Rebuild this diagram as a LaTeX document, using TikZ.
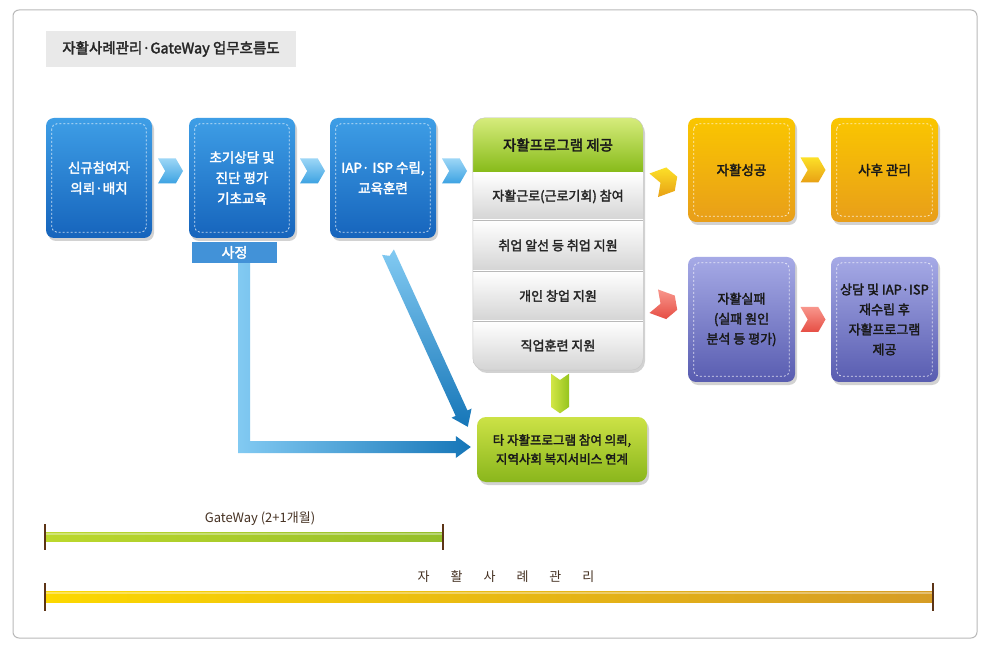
\documentclass[tikz,border=0pt]{standalone}
\usepackage{fontspec}
\setmainfont{Noto Sans CJK KR}[AutoFakeBold=2.4]
\usetikzlibrary{shapes.symbols,shadows,calc}
\definecolor{bluetop}{RGB}{62,158,230}
\definecolor{bluebot}{RGB}{22,100,188}
\definecolor{tabblue}{RGB}{66,146,216}
\definecolor{yeltop}{RGB}{250,198,0}
\definecolor{yelbot}{RGB}{232,158,26}
\definecolor{purtop}{RGB}{166,170,230}
\definecolor{purbot}{RGB}{88,92,176}
\definecolor{grntop}{RGB}{204,226,70}
\definecolor{grnbot}{RGB}{138,182,28}
\definecolor{hdrtop}{RGB}{214,236,124}
\definecolor{hdrbot}{RGB}{134,186,24}
\definecolor{rowbot}{RGB}{212,212,212}
\definecolor{arrlight}{RGB}{130,202,242}
\definecolor{arrdark}{RGB}{22,118,184}
\definecolor{chvbluetop}{RGB}{156,214,246}
\definecolor{chvbluebot}{RGB}{60,162,226}
\definecolor{chvredtop}{RGB}{248,150,140}
\definecolor{chvredbot}{RGB}{230,78,68}
\definecolor{chvyeltop}{RGB}{252,224,40}
\definecolor{chvyelbot}{RGB}{232,160,20}
\definecolor{chvgrntop}{RGB}{210,230,70}
\definecolor{chvgrnbot}{RGB}{150,196,30}
\definecolor{tickc}{RGB}{92,52,22}
\definecolor{gwl}{RGB}{188,216,44}
\definecolor{gwr}{RGB}{148,190,42}
\definecolor{cml}{RGB}{252,216,0}
\definecolor{cmr}{RGB}{214,156,36}
\definecolor{labelc}{RGB}{70,50,35}
\tikzset{
  frame/.style={draw=gray!55, line width=1pt, rounded corners=6pt, fill=white},
  titlebox/.style={rectangle, fill=gray!17, minimum width=250pt, minimum height=36pt, inner sep=0pt,
    font=\fontsize{14.5}{16}\selectfont\bfseries, text=black!85},
  box/.style={rectangle, rounded corners=8pt, minimum width=106pt, minimum height=120pt, inner sep=2pt,
    align=center, font=\fontsize{13.5}{20.5}\selectfont\bfseries,
    drop shadow={opacity=0.35, shadow xshift=2pt, shadow yshift=-3pt}},
  bluebox/.style={box, top color=bluetop, bottom color=bluebot, text=white},
  yelbox/.style={box, minimum width=107pt, minimum height=104pt, top color=yeltop, bottom color=yelbot, text=black!90},
  purbox/.style={box, minimum width=107pt, minimum height=125pt, top color=purtop, bottom color=purbot, text=black!90,
    font=\fontsize{13}{20}\selectfont\bfseries},
  grnbox/.style={box, minimum width=170pt, minimum height=65pt, rounded corners=9pt, top color=grntop, bottom color=grnbot,
    text=black!90, font=\fontsize{12.5}{19}\selectfont\bfseries},
  tabbox/.style={rectangle, fill=tabblue, minimum width=85pt, minimum height=21pt, inner sep=0pt, text=white,
    font=\fontsize{14}{16}\selectfont\bfseries},
  progbox/.style={rectangle, rounded corners=12pt, minimum width=170pt, minimum height=252pt, inner sep=0pt,
    fill=rowbot, drop shadow={opacity=0.35, shadow xshift=2pt, shadow yshift=-3pt}},
  hdrtext/.style={font=\fontsize{14.5}{16}\selectfont\bfseries, text=black!90},
  rowtext/.style={font=\fontsize{13}{15}\selectfont\bfseries, text=black!85},
  sepline/.style={draw=gray!55, line width=0.8pt},
  innerdash/.style={draw=white, opacity=0.75, dash pattern=on 2pt off 2pt, line width=0.8pt, rounded corners=5pt},
  chev/.style={signal, signal from=west, signal to=east, signal pointer angle=120,
    minimum width=25pt, minimum height=25pt, inner sep=0pt},
  chevblue/.style={chev, top color=chvbluetop, bottom color=chvbluebot},
  chevyel/.style={chev, top color=chvyeltop, bottom color=chvyelbot},
  chevred/.style={chev, top color=chvredtop, bottom color=chvredbot},
  chevdown/.style={signal, signal from=north, signal to=south, signal pointer angle=110,
    minimum width=18pt, minimum height=27pt, inner sep=0pt, left color=chvgrntop, right color=chvgrnbot},
  tickline/.style={draw=tickc, line width=1.8pt},
  barlabel/.style={font=\fontsize{13}{15}\selectfont, text=labelc}
}
\begin{document}
\begin{tikzpicture}[x=1pt,y=-1pt]
\useasboundingbox (0,0) rectangle (991,652);
\fill[white] (0,0) rectangle (991,652);
\draw[frame] (13,10) rectangle (977,638);

% title
\node[titlebox] (title) at (171,49) {자활사례관리·GateWay 업무흐름도};

% blue boxes
\node[bluebox] (b1) at (99,178) {신규참여자\\의뢰·배치};
\node[bluebox] (b2) at (242,178) {초기상담 및\\진단 평가\\기초교육};
\node[bluebox] (b3) at (383,178) {IAP· ISP 수립,\\교육훈련};
\node[tabbox] (tab) at (234.5,252.5) {사정};

% program box
\node[progbox] (prog) at (558,244) {};
\begin{scope}
  \clip[rounded corners=12pt] (prog.north west) rectangle (prog.south east);
  \shade[top color=hdrtop, bottom color=hdrbot] (prog.north west) rectangle ($(prog.north east)+(0,55)$);
  \shade[top color=white, bottom color=rowbot] (473,173) rectangle (643,220);
  \shade[top color=white, bottom color=rowbot] (473,220) rectangle (643,271);
  \shade[top color=white, bottom color=rowbot] (473,271) rectangle (643,321);
  \shade[top color=white, bottom color=rowbot] (473,321) rectangle (643,370);
\end{scope}
\draw[sepline] (473,220) -- (643,220);
\draw[sepline] (473,271) -- (643,271);
\draw[sepline] (473,321) -- (643,321);
\draw[draw=gray!45, rounded corners=12pt] (prog.north west) rectangle (prog.south east);
\node[hdrtext] (hdr) at (558,145) {자활프로그램 제공};
\node[rowtext] (r1) at (558,196.5) {자활근로(근로기회) 참여};
\node[rowtext] (r2) at (558,245.5) {취업 알선 등 취업 지원};
\node[rowtext] (r3) at (558,296) {개인 창업 지원};
\node[rowtext] (r4) at (558,345.5) {직업훈련 지원};

% right boxes
\node[yelbox] (y1) at (741.5,170) {자활성공};
\node[yelbox] (y2) at (884.5,170) {사후 관리};
\node[purbox] (p1) at (741.5,319.5) {자활실패\\(실패 원인\\분석 등 평가)};
\node[purbox] (p2) at (884.5,319.5) {상담 및 IAP·ISP\\재수립 후\\자활프로그램\\제공};

% green box
\node[grnbox] (gb) at (562,449.5) {타 자활프로그램 참여 의뢰,\\지역사회 복지서비스 연계};

% inner dashed borders
\foreach \n in {b1,b2,b3,y1,y2,p1,p2}
  \draw[innerdash] ([shift={(6,6)}]\n.north west) rectangle ([shift={(-6,-6)}]\n.south east);

% chevrons
\node[chevblue] (c1) at ($(b1.east)!0.5!(b2.west)+(0,-7)$) {};
\node[chevblue] (c2) at ($(b2.east)!0.5!(b3.west)+(0,-7)$) {};
\node[chevblue] (c3) at ($(b3.east)!0.5!(b3.east -| prog.west)+(0,-7)$) {};
\node[chevyel, rotate=20] (c4) at ($(prog.east |- y1.west)!0.5!(y1.west)+(0,11)$) {};
\node[chevyel] (c5) at ($(y1.east)!0.5!(y2.west)$) {};
\node[chevred, rotate=-20] (c6) at ($(prog.east |- p1.west)!0.5!(p1.west)+(0,-14)$) {};
\node[chevred] (c7) at ($(p1.east)!0.5!(p2.west)$) {};
\node[chevdown] (c8) at ($(prog.south)!0.5!(gb.north)$) {};

% L-shaped arrow from tab to green box
\coordinate (ls) at ($(tab.south)+(9.5,0)$);
\coordinate (le) at ($(gb.west)+(-6,-2.5)$);
\coordinate (lc) at (ls |- le);
\shade[left color=arrlight, right color=arrdark]
  ($(ls)+(-6,0)$) -- ($(ls)+(6,0)$) -- ($(lc)+(6,-6)$) -- ($(le)+(-15,-6)$) -- ($(le)+(-15,-11)$)
  -- (le) -- ($(le)+(-15,11)$) -- ($(le)+(-15,6)$) -- ($(lc)+(-6,6)$) -- cycle;

% diagonal arrow from b3 to green box
\coordinate (ds) at ($(b3.south)+(5,14)$);
\coordinate (de) at ($(gb.north west)+(-9,10)$);
\coordinate (dh) at ($(de)!15pt!(ds)$);
\coordinate (dn) at ($(ds)!4pt!(de)$);
\shade[top color=arrlight, bottom color=arrdark]
  ($(ds)!6.5pt!90:(de)$) -- ($(dh)!6.5pt!-90:(ds)$) -- ($(dh)!11pt!-90:(ds)$) -- (de)
  -- ($(dh)!11pt!90:(ds)$) -- ($(dh)!6.5pt!90:(ds)$) -- ($(ds)!6.5pt!-90:(de)$) -- (dn) -- cycle;

% timelines
\node[barlabel] (gwlabel) at (260,519) {GateWay (2+1개월)};
\coordinate (g0) at (45,537);
\coordinate (g1) at (443,537);
\shade[left color=gwl, right color=gwr] ($(g0)+(0,-4.5)$) rectangle ($(g1)+(0,4.5)$);
\fill[white, opacity=0.35] ($(g0)+(0,-4.5)$) rectangle ($(g1)+(0,-2.5)$);
\draw[tickline] ($(g0)+(0,-13)$) -- ($(g0)+(0,13)$);
\draw[tickline] ($(g1)+(0,-13)$) -- ($(g1)+(0,13)$);

\node[barlabel] (cmlabel) at (506,577) {자\hspace{21pt}활\hspace{21pt}사\hspace{21pt}례\hspace{21pt}관\hspace{21pt}리};
\coordinate (m0) at (45,597);
\coordinate (m1) at (933,597);
\shade[left color=cml, right color=cmr] ($(m0)+(0,-5.5)$) rectangle ($(m1)+(0,5.5)$);
\fill[white, opacity=0.35] ($(m0)+(0,-5.5)$) rectangle ($(m1)+(0,-3)$);
\draw[tickline] ($(m0)+(0,-14)$) -- ($(m0)+(0,14)$);
\draw[tickline] ($(m1)+(0,-14)$) -- ($(m1)+(0,14)$);
\end{tikzpicture}
\end{document}
